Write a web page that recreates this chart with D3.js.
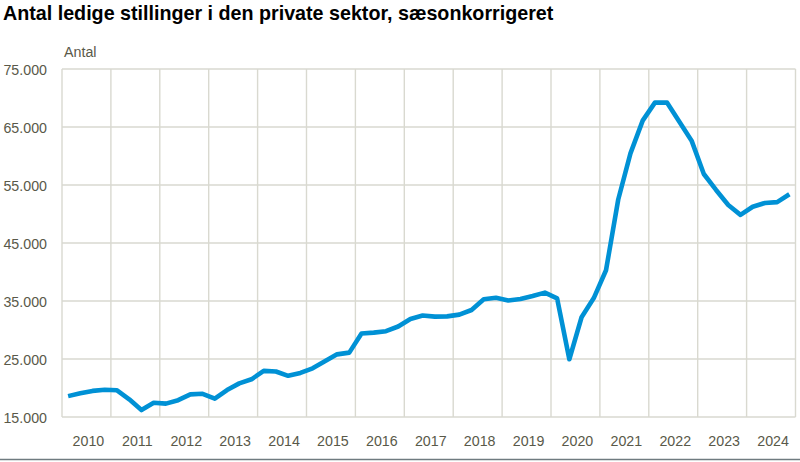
<!DOCTYPE html>
<html><head><meta charset="utf-8">
<script src="https://cdn.jsdelivr.net/npm/d3@7"></script>
<style>
html,body{margin:0;padding:0;background:#fff;}
svg{display:block;font-family:"Liberation Sans",Arial,sans-serif;}
</style></head>
<body><svg id="c" width="800" height="462"></svg>
<script>
const title = "Antal ledige stillinger i den private sektor, sæsonkorrigeret";
const yLabel = "Antal";
const years = [2010,2011,2012,2013,2014,2015,2016,2017,2018,2019,2020,2021,2022,2023,2024];
const yTicks = [15000,25000,35000,45000,55000,65000,75000];
// Quarterly values, 2010K1 .. 2024K4
const values = [
  18600,19100,19500,19700, 19600,18050,16200,17450,
  17300,17900,18900,19000, 18150,19650,20800,21500,
  22950,22850,22100,22600, 23400,24600,25800,26100,
  29400,29550,29800,30600, 31900,32500,32300,32350,
  32650,33450,35300,35550, 35100,35350,35850,36450,
  35450,24950,32200,35500, 40300,52500,60450,66100,
  69200,69200,65900,62650, 56900,54150,51550,49850,
  51250,51900,52050,53400
];

const svg = d3.select("#c");
const L = 62, R = 795.5, T = 69, B = 417;
const x = d3.scaleLinear().domain([years[0], years[years.length-1]+1]).range([L, R]);
const y = d3.scaleLinear().domain([15000, 75000]).range([B, T]);
const fmt = v => d3.format(",")(v).replace(/,/g, ".");
const grid = "#d9d9d0";
const txt = "#595949";
const SX = 0.92, FS = 15.5;

// horizontal grid
svg.append("g").selectAll("line").data(yTicks).join("line")
  .attr("x1", L).attr("x2", R)
  .attr("y1", d => y(d)).attr("y2", d => y(d))
  .attr("stroke", grid).attr("stroke-width", 1.4);
// vertical grid
const vlines = years.concat([years[years.length-1]+1]);
svg.append("g").selectAll("line").data(vlines).join("line")
  .attr("x1", d => x(d)).attr("x2", d => x(d))
  .attr("y1", T).attr("y2", B)
  .attr("stroke", grid).attr("stroke-width", 1.4);

// y tick labels
svg.append("g").selectAll("text").data(yTicks).join("text")
  .attr("transform", d => `translate(47,${y(d) + 5.5}) scale(${SX},1)`)
  .attr("text-anchor", "end")
  .attr("font-size", FS).attr("fill", txt)
  .text(fmt);
// x labels
svg.append("g").selectAll("text").data(years).join("text")
  .attr("transform", d => `translate(${x(d + 0.5) + 2},446) scale(${SX},1)`)
  .attr("text-anchor", "middle")
  .attr("font-size", FS).attr("fill", txt)
  .text(d => d);

// axis label
svg.append("text").attr("transform", `translate(64,57) scale(${SX},1)`)
  .attr("font-size", FS).attr("fill", txt).text(yLabel);

// title
svg.append("text").attr("x", 3).attr("y", 20)
  .attr("font-size", 19.7).attr("font-weight", "bold").attr("fill", "#000")
  .text(title);

// line
const pts = values.map((v, i) => [years[0] + (i + 0.5) / 4, v]);
svg.append("path").datum(pts)
  .attr("fill", "none").attr("stroke", "#0091d5")
  .attr("stroke-width", 4.6).attr("stroke-linejoin", "round").attr("stroke-linecap", "butt")
  .attr("d", d3.line().x(d => x(d[0])).y(d => y(d[1])));

// bottom rule
svg.append("line").attr("x1", 0).attr("x2", 800).attr("y1", 459.5).attr("y2", 459.5)
  .attr("stroke", "#6f7b80").attr("stroke-width", 1.5);
</script></body></html>
